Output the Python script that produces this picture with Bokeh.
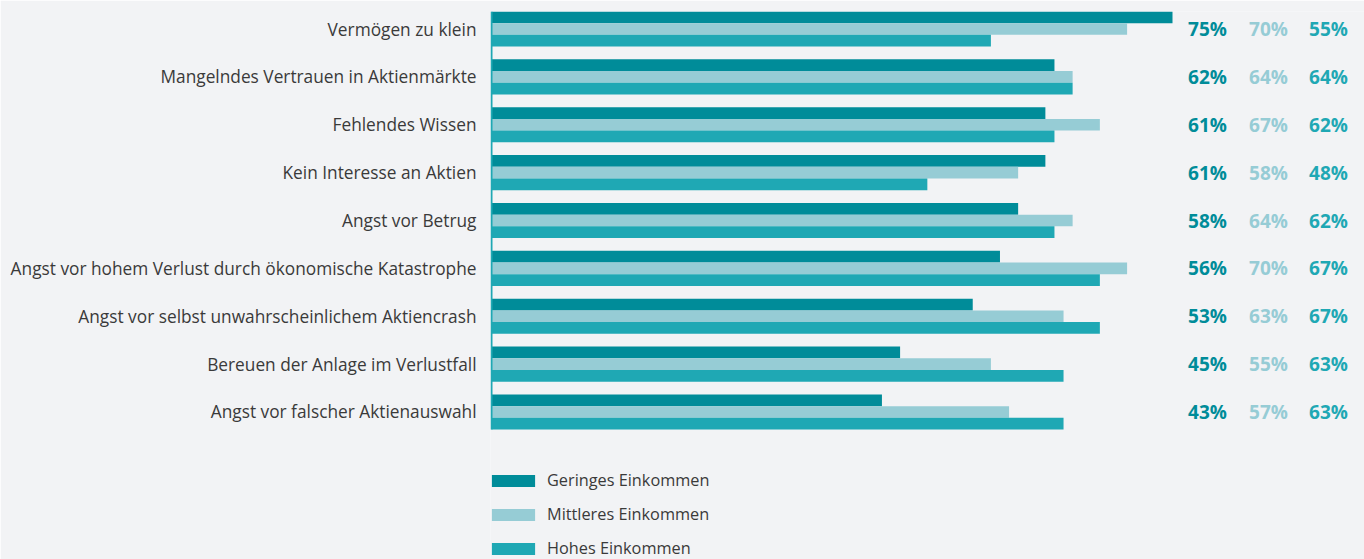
from bokeh.plotting import figure
from bokeh.models import ColumnDataSource, Range1d, FixedTicker, Legend, LegendItem
from bokeh.transform import dodge
from bokeh.core.properties import value
from bokeh.embed import file_html
from bokeh.resources import INLINE

categories = [
    "Vermögen zu klein",
    "Mangelndes Vertrauen in Aktienmärkte",
    "Fehlendes Wissen",
    "Kein Interesse an Aktien",
    "Angst vor Betrug",
    "Angst vor hohem Verlust durch ökonomische Katastrophe",
    "Angst vor selbst unwahrscheinlichem Aktiencrash",
    "Bereuen der Anlage im Verlustfall",
    "Angst vor falscher Aktienauswahl",
]
geringes = [75, 62, 61, 61, 58, 56, 53, 45, 43]
mittleres = [70, 64, 67, 58, 64, 70, 63, 55, 57]
hohes = [55, 64, 62, 48, 62, 67, 67, 63, 63]
series_names = ["Geringes Einkommen", "Mittleres Einkommen", "Hohes Einkommen"]

colors = ["#008c99", "#96ccd5", "#1fa8b4"]
BG = "#f2f3f5"
TXT = "#3a3a3a"

n = len(categories)
idx = list(range(n))
src = ColumnDataSource(dict(
    y=idx, g=geringes, m=mittleres, h=hohes,
    gl=[f"{v}%" for v in geringes],
    ml=[f"{v}%" for v in mittleres],
    hl=[f"{v}%" for v in hohes],
))

W, H = 1364, 559
TOP = 11
BAR_H = 0.244
HALF = 1.5 * BAR_H
BARS_PX = 418                      # pixel height of the bar block
unit_px = BARS_PX / (n - 1 + 2 * HALF)
frame_h = H - TOP
y_end = -HALF
y_start = -HALF + frame_h / unit_px

px_per_pct = 9.08
FRAME_LEFT = 490
x_start = -1 / px_per_pct
x_end = x_start + (W - FRAME_LEFT) / px_per_pct

p = figure(
    width=W, height=H, output_backend="svg", toolbar_location=None,
    x_range=Range1d(x_start, x_end),
    y_range=Range1d(y_start, y_end),
    min_border_left=FRAME_LEFT, min_border_right=0, min_border_top=TOP, min_border_bottom=0,
    background_fill_color=BG, border_fill_color=BG, outline_line_color=None,
)
p.xaxis.visible = False
p.xgrid.visible = False
p.ygrid.visible = False

vals = ["g", "m", "h"]
offs = [-BAR_H, 0.0, BAR_H]
renderers = []
for col, off, c in zip(vals, offs, colors):
    r = p.hbar(y=dodge("y", off), right=col, left=0, height=BAR_H, source=src,
               fill_color=c, line_color=None)
    renderers.append(r)

# category axis line, spanning only the bar block
p.segment(x0=[0], y0=[-HALF], x1=[0], y1=[n - 1 + HALF],
          line_color=colors[2], line_width=2)

# value label columns
label_cols = ["gl", "ml", "hl"]
label_x = [78.85, 85.57, 92.18]
for lc, lx, c in zip(label_cols, label_x, colors):
    p.text(x=lx, y="y", text=lc, source=src, text_color=c,
           text_font=value("Open Sans"), text_font_style="bold",
           text_font_size="19px", text_align="center", text_baseline="middle",
           y_offset=0)

ya = p.yaxis[0]
ya.ticker = FixedTicker(ticks=idx)
ya.major_label_overrides = {i: c for i, c in enumerate(categories)}
ya.major_tick_line_color = None
ya.minor_tick_line_color = None
ya.major_tick_out = 0
ya.major_tick_in = 0
ya.axis_line_color = None
ya.major_label_standoff = 14
ya.major_label_text_font = "Open Sans"
ya.major_label_text_font_size = "17.3px"
ya.major_label_text_color = TXT

legend = Legend(
    items=[LegendItem(label=s, renderers=[r]) for s, r in zip(series_names, renderers)],
    location=(-4, 0), orientation="vertical",
    glyph_width=54, glyph_height=15, label_standoff=7, label_height=20,
    spacing=12, padding=0, margin=0,
    border_line_color=None, background_fill_alpha=0,
    label_text_font="Open Sans", label_text_font_size="16.3px", label_text_color=TXT,
)
p.add_layout(legend, "center")

open("out.html", "w").write(file_html(p, INLINE))
